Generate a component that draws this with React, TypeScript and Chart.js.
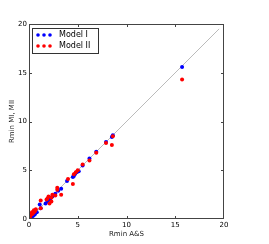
import React, { useEffect, useRef } from "react";
import { Chart, registerables } from "chart.js";
Chart.register(...registerables);

const modelIx = [15.7, 8.6, 8.5, 7.9, 6.9, 6.2, 5.5, 5.1, 4.9, 4.7, 4.6, 4.5, 3.9, 3.3, 3.0, 2.7, 2.4, 2.2, 2.1, 1.9, 1.7, 1.2, 1.1, 0.8, 0.6, 0.5, 0.4, 0.3, 0.2, 0.1, 0.05];
const modelIy = [15.6, 8.6, 8.4, 7.9, 6.9, 6.2, 5.5, 4.9, 4.8, 4.6, 4.4, 4.3, 3.9, 3.1, 2.9, 2.6, 2.3, 2.1, 2.0, 1.8, 1.6, 1.1, 1.5, 0.7, 0.5, 0.4, 0.3, 0.25, 0.15, 0.1, 0.05];
const modelIIx = [15.7, 8.6, 8.5, 7.9, 6.9, 6.2, 5.5, 5.0, 4.8, 4.6, 4.5, 4.0, 3.3, 2.9, 2.9, 2.7, 2.4, 2.3, 2.3, 2.1, 2.0, 1.9, 1.8, 1.2, 1.2, 0.7, 0.6, 0.5, 0.5, 0.4, 0.3, 0.2, 0.1, 0.3, 0.1];
const modelIIy = [14.3, 8.5, 7.6, 7.8, 6.8, 6.0, 5.6, 5.0, 4.8, 4.6, 3.6, 4.1, 2.5, 3.2, 3.0, 2.4, 2.5, 2.2, 1.8, 1.6, 2.3, 2.1, 2.0, 1.9, 1.1, 1.0, 0.8, 0.7, 0.9, 0.6, 0.5, 0.4, 0.2, 0.7, 0.5];
const lineX = [0, 19.5];
const tickValues = [0, 5, 10, 15, 20];
const legendLabels = ["Model I", "Model II"];
const colors = ["#0000ff", "#ff0000"];

const framePlugin = {
  id: "frame",
  afterDatasetsDraw(chart: any) {
    const { ctx, chartArea: a, scales } = chart;
    ctx.save();
    ctx.strokeStyle = "#444";
    ctx.lineWidth = 1;
    ctx.strokeRect(a.left + 0.5, a.top + 0.5, a.right - a.left - 1, a.bottom - a.top - 1);
    ctx.beginPath();
    for (const v of tickValues.slice(1, -1)) {
      const px = Math.round(scales.x.getPixelForValue(v)) + 0.5;
      const py = Math.round(scales.y.getPixelForValue(v)) + 0.5;
      ctx.moveTo(px, a.bottom); ctx.lineTo(px, a.bottom - 3);
      ctx.moveTo(px, a.top); ctx.lineTo(px, a.top + 3);
      ctx.moveTo(a.left, py); ctx.lineTo(a.left + 3, py);
      ctx.moveTo(a.right, py); ctx.lineTo(a.right - 3, py);
    }
    ctx.stroke();
    // legend
    const lx = a.left + 3, ly = a.top + 4, lw = 66, lh = 25;
    ctx.fillStyle = "#fff";
    ctx.fillRect(lx, ly, lw, lh);
    ctx.strokeStyle = "#333";
    ctx.strokeRect(lx + 0.5, ly + 0.5, lw, lh);
    ctx.font = "8px 'DejaVu Sans'";
    ctx.textBaseline = "middle";
    legendLabels.forEach((lab, i) => {
      const cy = ly + 7 + i * 11;
      ctx.fillStyle = colors[i];
      for (const dx of [6, 12, 18]) {
        ctx.beginPath();
        ctx.arc(lx + dx, cy, 1.8, 0, Math.PI * 2);
        ctx.fill();
      }
      ctx.fillStyle = "#000";
      ctx.fillText(lab, lx + 27, cy);
    });
    ctx.restore();
  },
};

export default function App() {
  const ref = useRef<HTMLCanvasElement>(null);
  useEffect(() => {
    document.body.style.margin = "0";
    const mk = (xs: number[], ys: number[]) => xs.map((x, i) => ({ x, y: ys[i] }));
    const chart = new Chart(ref.current!, {
      type: "scatter",
      data: {
        datasets: [
          {
            type: "line",
            data: lineX.map((v) => ({ x: v, y: v })),
            borderColor: "#bbbbbb",
            borderWidth: 1,
            pointRadius: 0,
            order: 3,
          } as any,
          {
            label: legendLabels[0],
            data: mk(modelIx, modelIy),
            backgroundColor: colors[0],
            borderWidth: 0,
            pointRadius: 2,
            order: 2,
          },
          {
            label: legendLabels[1],
            data: mk(modelIIx, modelIIy),
            backgroundColor: colors[1],
            borderWidth: 0,
            pointRadius: 2,
            order: 1,
          },
        ],
      },
      options: {
        animation: false,
        responsive: false,
        layout: { padding: { top: 24, right: 45, left: 0, bottom: 0 } },
        plugins: { legend: { display: false }, tooltip: { enabled: false } },
        scales: {
          x: {
            type: "linear",
            min: 0,
            max: 20,
            afterBuildTicks: (s: any) => { s.ticks = tickValues.map((v) => ({ value: v })); },
            afterFit: (s: any) => { s.height = 25; },
            grid: { display: false, drawTicks: false },
            border: { display: false },
            ticks: { font: { family: "DejaVu Sans", size: 7 }, color: "#000", padding: 2, maxRotation: 0 },
            title: { display: true, text: "Rmin A&S", font: { family: "DejaVu Sans", size: 7 }, color: "#222", padding: { top: 0, bottom: 6 } },
          },
          y: {
            type: "linear",
            min: 0,
            max: 20,
            afterBuildTicks: (s: any) => { s.ticks = tickValues.map((v) => ({ value: v })); },
            afterFit: (s: any) => { s.width = 29; },
            grid: { display: false, drawTicks: false },
            border: { display: false },
            ticks: { font: { family: "DejaVu Sans", size: 7 }, color: "#000", padding: 2 },
            title: { display: true, text: "Rmin MI, MII", font: { family: "DejaVu Sans", size: 7 }, color: "#222", padding: { top: 8, bottom: 0 } },
          },
        },
      },
      plugins: [framePlugin],
    });
    return () => chart.destroy();
  }, []);
  return <canvas ref={ref} width={269} height={244} style={{ display: "block" }} />;
}
